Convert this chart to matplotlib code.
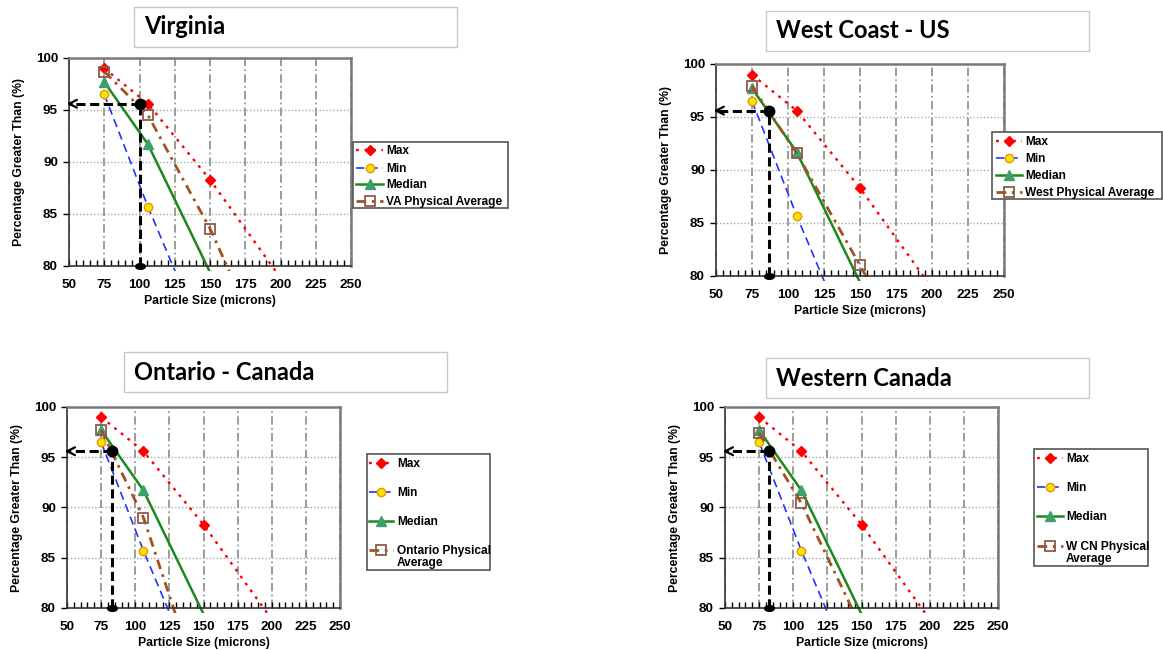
import numpy as np
import matplotlib.pyplot as plt
from matplotlib.lines import Line2D
from matplotlib.patches import Rectangle
from matplotlib.path import Path
from matplotlib.transforms import Affine2D

plt.rcParams['font.family'] = ['Liberation Sans', 'DejaVu Sans']
plt.rcParams['font.weight'] = 'bold'

# sieve openings in microns (the last one falls below the 80 % line)
sizes = [75, 106, 150, 212]

# percentage of material coarser than each sieve
max_pct = [99.0, 95.6, 88.3, 76.6]
min_pct = [96.5, 85.7, 71.5, 51.5]
median_pct = [97.7, 91.7, 79.4, 62.0]

regions = ['Virginia', 'West Coast - US', 'Ontario - Canada', 'Western Canada']
avg_labels = ['VA Physical Average', 'West Physical Average',
              'Ontario Physical\nAverage', 'W CN Physical\nAverage']
va_avg = [98.7, 94.5, 83.6, 65.0]
west_avg = [97.9, 91.6, 81.0, 65.5]
ontario_avg = [97.7, 89.0, 71.0, 50.0]
wcn_avg = [97.4, 90.4, 78.0, 60.0]
region_avgs = [va_avg, west_avg, ontario_avg, wcn_avg]

# size at which the regional average passes the 95.6 % mark
target_pct = 95.6
cut_sizes = [100, 87, 83, 82]

max_style = dict(color='red', ls=(0, (1.2, 2.4)), lw=1.7, marker='D', ms=5,
                 mfc='red', mec='red')
min_style = dict(color='#2233ff', ls=(0, (5, 3)), lw=1.2, marker='o', ms=6,
                 mfc='#ffe200', mec='#e09a00')
med_style = dict(color='#1a8a1a', ls='-', lw=1.8, marker='^', ms=7,
                 mfc='#3c9f6c', mec='#3c9f6c')
avg_style = dict(color='#a3521f', ls=(0, (3.5, 2, 1, 2)), lw=2, marker='s', ms=7,
                 mfc='none', mec='#8c5b4c', mew=1.3)

W, H = 1163, 650
fig = plt.figure(figsize=(W / 100, H / 100), dpi=100)

# pixel positions: axes (l, t, r, b), title box (l, t, r, b),
# legend box (l, t, r, b), legend row centres, handle span, text start
layout = [
    dict(ax=(69, 58, 351, 266), title=(134, 7, 457, 47),
         leg=(353, 142, 508, 208), rows=(150, 167.5, 184, 200.5),
         hand=(356, 383), tx=386),
    dict(ax=(716, 64, 1004, 276), title=(766, 11, 1089, 51),
         leg=(992, 132, 1162, 199), rows=(140.5, 157.5, 174.5, 191.5),
         hand=(996, 1022), tx=1025),
    dict(ax=(67, 407, 340, 608), title=(124, 352, 447, 392),
         leg=(367, 454, 490, 570), rows=(462.5, 491.5, 520.5, 549.5),
         hand=(369, 393), tx=397),
    dict(ax=(725, 407, 998, 608), title=(766, 358, 1089, 398),
         leg=(1034, 449, 1148, 566), rows=(457.5, 486.5, 516, 545.5),
         hand=(1037, 1063), tx=1066),
]


def fx(px):
    return px / W


def fy(py):
    return 1 - py / H


# flattened circle for the foot of the cut line
ellipse = Path.unit_circle().transformed(Affine2D().scale(1.7, 1.0))

for i, lay in enumerate(layout):
    l, t, r, b = lay['ax']
    ax = fig.add_axes([fx(l), fy(b), fx(r - l), (b - t) / H])

    def plot_series(vals, style):
        keep = [k for k, v in enumerate(vals) if v >= 80]
        line, = ax.plot(sizes, vals, markevery=keep, **style)
        line.set_clip_path(Rectangle((0, -0.025), 1, 1.03, transform=ax.transAxes))

    plot_series(max_pct, max_style)
    plot_series(min_pct, min_style)
    plot_series(median_pct, med_style)
    plot_series(region_avgs[i], avg_style)

    # cut line up from the axis and across to the percentage axis
    xc = cut_sizes[i]
    ax.plot([xc, xc], [80, target_pct], color='black', lw=2.2, ls=(0, (3, 1.5)),
            clip_on=False, zorder=5)
    ax.plot([xc, 50], [target_pct, target_pct], color='black', lw=2.2,
            ls=(0, (3, 1.5)), clip_on=False, zorder=5)
    ax.annotate('', xy=(48.3, target_pct), xytext=(52, target_pct),
                arrowprops=dict(arrowstyle='->', color='black', lw=1.6,
                                mutation_scale=14, shrinkA=0, shrinkB=0),
                annotation_clip=False, zorder=6)
    ax.plot([xc], [80], marker=ellipse, ms=7, color='black', clip_on=False, zorder=6)
    ax.plot([xc], [target_pct], marker='o', ms=7.5, color='black', clip_on=False, zorder=6)

    ax.set_xlim(50, 250)
    ax.set_ylim(80, 100)
    ax.set_xticks(np.arange(50, 251, 25))
    ax.set_xticks(np.arange(50, 251, 5), minor=True)
    ax.set_yticks(np.arange(80, 101, 5))
    ax.tick_params(axis='x', which='both', direction='in', length=4, width=1,
                   pad=9, labelsize=9.7, top=False)
    ax.tick_params(axis='y', direction='out', length=4, width=1, pad=4, labelsize=9.7)
    for lab in ax.get_xticklabels() + ax.get_yticklabels():
        lab.set_fontweight('bold')

    ax.grid(axis='x', which='major', color='#8a8a8a', lw=1.2, ls=(0, (5, 2, 1, 2)))
    ax.grid(axis='y', which='major', color='#a8a8a8', lw=1, ls=(0, (1, 1.5)))
    ax.set_axisbelow(True)
    for side in ['top', 'right']:
        ax.spines[side].set_color('#7a7a7a')
        ax.spines[side].set_linewidth(1.8)
    for side in ['left', 'bottom']:
        ax.spines[side].set_color('#333333')
        ax.spines[side].set_linewidth(1.2)

    ax.set_xlabel('Particle Size (microns)', fontsize=8.8, fontweight='bold', labelpad=3)
    ax.set_ylabel('Percentage Greater Than (%)', fontsize=8.8, fontweight='bold', labelpad=8)

    # legend drawn by hand so two-line labels start level with their key
    gl, gt, gr, gb = lay['leg']
    fig.add_artist(Rectangle((fx(gl), fy(gb)), fx(gr - gl), (gb - gt) / H,
                             transform=fig.transFigure, facecolor='white',
                             edgecolor='#555555', lw=1.2))
    h0, h1 = lay['hand']
    entries = [(max_style, 'Max'), (min_style, 'Min'), (med_style, 'Median'),
               (avg_style, avg_labels[i])]
    for (style, label), y in zip(entries, lay['rows']):
        fig.add_artist(Line2D([fx(h0), fx((h0 + h1) / 2), fx(h1)], [fy(y)] * 3,
                              transform=fig.transFigure, markevery=[1], **style))
        fig.text(fx(lay['tx']), fy(y - 4.5), label, fontsize=8.6, fontweight='bold',
                 va='top', ha='left', linespacing=1.0)

    # region name in a framed box above the plot
    tl, tt, tr, tb = lay['title']
    fig.add_artist(Rectangle((fx(tl), fy(tb)), fx(tr - tl), (tb - tt) / H,
                             transform=fig.transFigure, facecolor='white',
                             edgecolor='#c8c8c8', lw=1))
    fig.text(fx(tl + 10), fy((tt + tb) / 2), regions[i], family='Lato',
             fontsize=17, fontweight='bold', va='center', ha='left')

fig.savefig('out.png', dpi=100)
